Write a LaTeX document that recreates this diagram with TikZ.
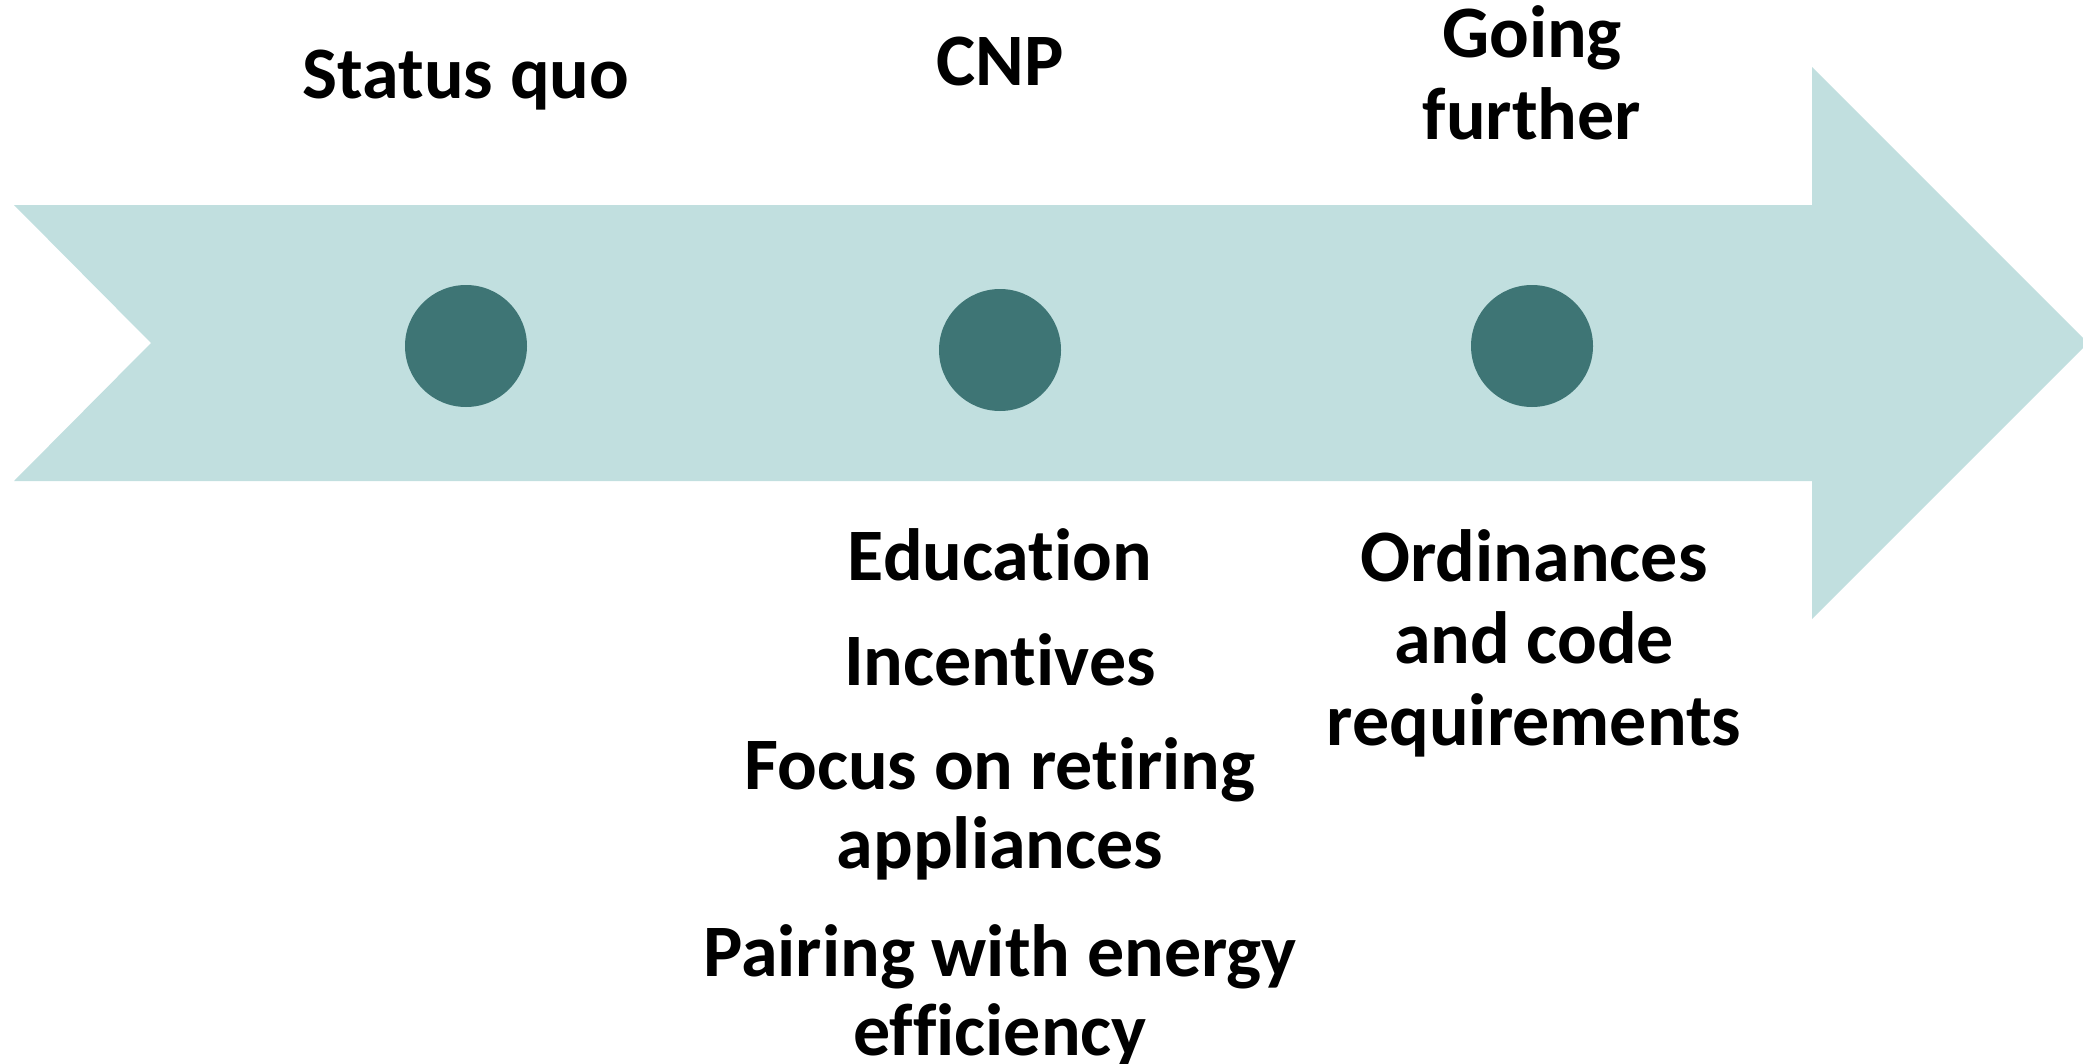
\documentclass[tikz,border=0pt]{standalone}
\usepackage{fontspec}
\setmainfont{Carlito}[Ligatures={NoCommon}]
\definecolor{arrowfill}{HTML}{C1DFDF}
\definecolor{dotfill}{HTML}{3E7575}
\begin{document}
\begin{tikzpicture}[x=1pt,y=-1pt,
  dot/.style={circle,fill=dotfill,minimum size=122pt,inner sep=0pt},
  lbl/.style={anchor=base,inner sep=0pt,font=\fontsize{74}{81}\selectfont\bfseries}]
\useasboundingbox (0,0) rectangle (2083,1063);
\fill[arrowfill] (14,205) -- (1812,205) -- (1812,67) -- (2088,343) -- (1812,619) -- (1812,481) -- (14,481) -- (151,343) -- cycle;
\node[dot] (d1) at (466,346) {};
\node[dot] (d2) at (1000,350) {};
\node[dot] (d3) at (1532,346) {};
\node[lbl] (t1) at (466,98) {Status quo};
\node[lbl] (t2) at (1000,85) {CNP};
\node[lbl] (t3a) at (1532,57.6) {Going};
\node[lbl] (t3b) at (1532,139) {further};
\node[lbl] (c1) at (1000,580) {Education};
\node[lbl] (c2) at (1000,685) {Incentives};
\node[lbl] (c3a) at (1000,789) {Focus on retiring};
\node[lbl] (c3b) at (1000,868) {appliances};
\node[lbl] (c4a) at (1000,976) {Pairing with energy};
\node[lbl] (c4b) at (1000,1055) {efficiency};
\node[lbl] (g1a) at (1534,581) {Ordinances};
\node[lbl] (g1b) at (1534,663) {and code};
\node[lbl] (g1c) at (1534,745) {requirements};
\end{tikzpicture}
\end{document}
